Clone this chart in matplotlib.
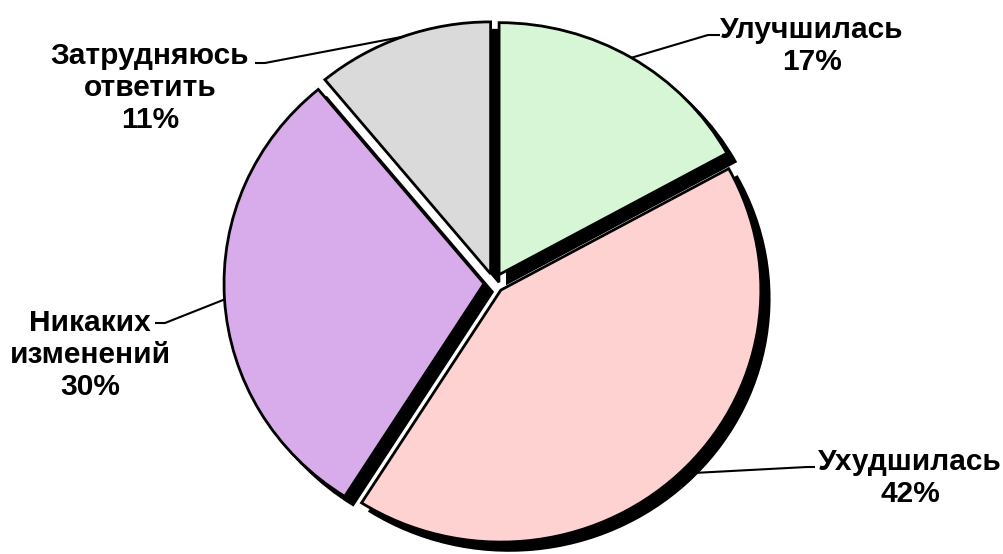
import numpy as np
import matplotlib
matplotlib.use('Agg')
import matplotlib.pyplot as plt

# --- data ---
labels = ['Улучшилась', 'Ухудшилась', 'Никаких\nизменений', 'Затрудняюсь\nответить']
shares = [17, 42, 30, 11]
colors = ['#d6f6d6', '#ffd2d2', '#d8acea', '#dadada']

# label block centres and leader elbows (pixel coords, y up)
label_pos = [(812, 508), (910, 76), (90, 199), (150, 466)]
elbows = [((708, 519), (720, 519)),
          ((807, 87), (815, 87)),
          ((165, 231), (155, 231)),
          ((265, 491), (255, 491))]

W, H = 1004, 554
rx, ry = 260, 252          # pie is a little wider than tall
k = rx / ry                # y data units per pixel
cx, cy = 494, 271
explode = 10

plt.rcParams['font.family'] = ['Liberation Sans', 'DejaVu Sans']

fig = plt.figure(figsize=(W / 100, H / 100), dpi=100)
ax = fig.add_axes([0, 0, 1, 1])

wedges, _ = ax.pie(shares, colors=colors, startangle=90, counterclock=False,
                   explode=[explode] * len(shares), center=(cx, cy * k), radius=rx,
                   wedgeprops=dict(edgecolor='black', linewidth=2),
                   shadow=dict(ox=6, oy=-6 * k, facecolor='black', edgecolor='black', alpha=1),
                   frame=True)
ax.set_xlim(0, W)
ax.set_ylim(0, H * k)
ax.set_aspect('auto')
ax.axis('off')

for w, lab, val, pos, (elb, end) in zip(wedges, labels, shares, label_pos, elbows):
    mid = np.deg2rad((w.theta1 + w.theta2) / 2)
    x0 = w.center[0] + w.r * np.cos(mid)
    y0 = w.center[1] + w.r * np.sin(mid)
    ax.plot([x0, elb[0], end[0]], [y0, elb[1] * k, end[1] * k], color='black', lw=1.5,
            solid_capstyle='butt', zorder=3)
    ax.text(pos[0], pos[1] * k, f'{lab}\n{val}%', ha='center', va='center',
            fontsize=21.5, fontweight='bold', linespacing=1.2, zorder=4)

fig.savefig('out.png', dpi=100)
